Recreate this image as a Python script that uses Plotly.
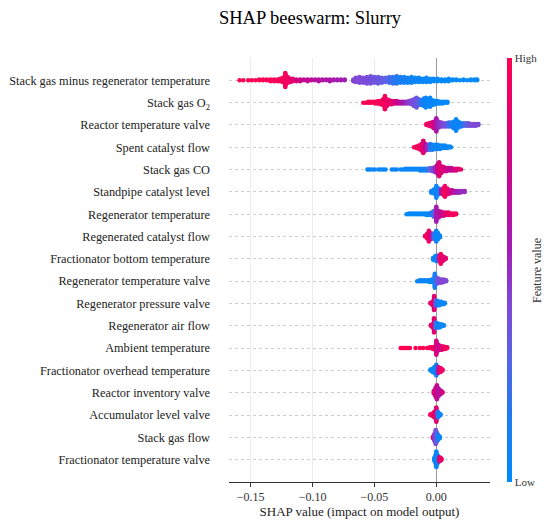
import plotly.graph_objects as go

# feature names, top to bottom
features = [
    "Stack gas minus regenerator temperature",
    "Stack gas O<sub>2</sub>",
    "Reactor temperature valve",
    "Spent catalyst flow",
    "Stack gas CO",
    "Standpipe catalyst level",
    "Regenerator temperature",
    "Regenerated catalyst flow",
    "Fractionator bottom temperature",
    "Regenerator temperature valve",
    "Regenerator pressure valve",
    "Regenerator air flow",
    "Ambient temperature",
    "Fractionator overhead temperature",
    "Reactor inventory valve",
    "Accumulator level valve",
    "Stack gas flow",
    "Fractionator temperature valve",
]

# each entry: (shap value, number of stacked points, feature value 0=low 1=high)
stack_minus_regen = [
    (-0.159, 1, 1.0), (-0.156, 1, 1.0), (-0.152, 1, 1.0), (-0.149, 1, 1.0), (-0.146, 1, 1.0),
    (-0.143, 2, 1.0), (-0.140, 2, 1.0), (-0.137, 2, 0.98), (-0.134, 3, 0.98), (-0.131, 3, 0.97),
    (-0.128, 3, 0.97), (-0.126, 4, 0.96), (-0.124, 6, 0.96), (-0.122, 18, 0.95), (-0.120, 8, 0.92),
    (-0.118, 5, 0.9), (-0.116, 4, 0.85), (-0.113, 3, 0.8), (-0.110, 3, 0.75), (-0.107, 2, 0.7),
    (-0.104, 3, 0.7), (-0.101, 2, 0.68), (-0.098, 2, 0.65), (-0.095, 3, 0.62), (-0.092, 2, 0.62),
    (-0.089, 2, 0.6), (-0.086, 3, 0.6), (-0.083, 2, 0.58), (-0.080, 2, 0.56), (-0.077, 2, 0.55),
    (-0.074, 2, 0.55),
    (-0.067, 3, 0.45), (-0.065, 6, 0.42), (-0.062, 8, 0.42), (-0.059, 7, 0.4), (-0.056, 9, 0.4),
    (-0.053, 10, 0.38), (-0.050, 8, 0.36), (-0.047, 9, 0.35), (-0.044, 7, 0.33), (-0.041, 6, 0.3),
    (-0.038, 8, 0.25), (-0.035, 9, 0.2), (-0.032, 10, 0.15), (-0.029, 8, 0.12), (-0.026, 8, 0.1),
    (-0.023, 7, 0.08), (-0.020, 8, 0.06), (-0.017, 6, 0.05), (-0.014, 6, 0.04), (-0.011, 5, 0.04),
    (-0.008, 6, 0.03), (-0.005, 5, 0.03), (-0.002, 4, 0.02), (0.001, 4, 0.02), (0.004, 3, 0.02),
    (0.007, 3, 0.02), (0.010, 4, 0.02), (0.013, 2, 0.02), (0.016, 2, 0.02), (0.019, 1, 0.02),
    (0.022, 2, 0.02), (0.025, 1, 0.02), (0.028, 2, 0.02), (0.031, 2, 0.02), (0.033, 2, 0.02),
]

stack_gas_o2 = [
    (-0.059, 1, 1.0), (-0.057, 1, 1.0), (-0.055, 2, 1.0), (-0.053, 2, 1.0), (-0.051, 2, 1.0),
    (-0.049, 3, 0.98), (-0.047, 4, 0.97), (-0.045, 5, 0.96), (-0.043, 8, 0.95), (-0.0415, 17, 0.95),
    (-0.040, 9, 0.9), (-0.038, 6, 0.9), (-0.036, 5, 0.85), (-0.034, 4, 0.8), (-0.032, 4, 0.75),
    (-0.030, 3, 0.7), (-0.028, 3, 0.6), (-0.026, 3, 0.55), (-0.024, 3, 0.5), (-0.022, 4, 0.45),
    (-0.020, 6, 0.4), (-0.018, 9, 0.38), (-0.016, 13, 0.35), (-0.014, 8, 0.3), (-0.012, 7, 0.15),
    (-0.010, 10, 0.1), (-0.0085, 13, 0.05), (-0.007, 9, 0.05), (-0.005, 12, 0.04), (-0.003, 7, 0.03),
    (-0.001, 5, 0.03), (0.001, 4, 0.02), (0.003, 3, 0.02), (0.005, 3, 0.02), (0.007, 2, 0.02),
    (0.009, 2, 0.02),
]

reactor_temp_valve = [
    (-0.008, 2, 0.95), (-0.006, 4, 0.9), (-0.004, 6, 0.85), (-0.002, 9, 0.75), (0.000, 17, 0.6),
    (0.002, 8, 0.5), (0.004, 6, 0.45), (0.006, 5, 0.4), (0.008, 5, 0.35), (0.010, 6, 0.25),
    (0.012, 6, 0.15), (0.014, 9, 0.1), (0.016, 15, 0.05), (0.018, 8, 0.05), (0.020, 5, 0.1),
    (0.022, 4, 0.2), (0.024, 4, 0.3), (0.026, 4, 0.35), (0.028, 3, 0.4), (0.030, 3, 0.42),
    (0.032, 3, 0.42), (0.034, 2, 0.42),
]

spent_catalyst_flow = [
    (-0.018, 1, 1.0), (-0.016, 3, 0.95), (-0.014, 5, 0.95), (-0.012, 9, 0.9), (-0.0105, 16, 0.85),
    (-0.009, 9, 0.7), (-0.007, 7, 0.5), (-0.005, 8, 0.2), (-0.003, 7, 0.1), (-0.001, 6, 0.05),
    (0.001, 6, 0.05), (0.003, 5, 0.05), (0.005, 4, 0.04), (0.007, 4, 0.04), (0.009, 3, 0.04),
    (0.011, 2, 0.04), (0.012, 1, 0.04),
]

stack_gas_co = [
    (-0.0556, 1, 0.05), (-0.054, 1, 0.05), (-0.052, 1, 0.05), (-0.050, 1, 0.05),
    (-0.047, 1, 0.05), (-0.045, 1, 0.05), (-0.043, 1, 0.05), (-0.041, 1, 0.05),
    (-0.036, 1, 0.05), (-0.034, 1, 0.05), (-0.032, 1, 0.05),
    (-0.029, 1, 0.05), (-0.027, 1, 0.05), (-0.025, 2, 0.05), (-0.023, 2, 0.05), (-0.021, 2, 0.05),
    (-0.019, 2, 0.05), (-0.017, 2, 0.05), (-0.015, 2, 0.05), (-0.013, 3, 0.05), (-0.011, 3, 0.05),
    (-0.009, 3, 0.1), (-0.007, 3, 0.2), (-0.005, 4, 0.3), (-0.003, 5, 0.4), (-0.001, 7, 0.5),
    (0.001, 12, 0.7), (0.0023, 18, 0.8), (0.004, 9, 0.85), (0.006, 6, 0.8), (0.008, 5, 0.75),
    (0.010, 4, 0.7), (0.012, 4, 0.7), (0.014, 3, 0.75), (0.016, 3, 0.8), (0.018, 2, 0.85),
    (0.020, 1, 0.9),
]

standpipe_level = [
    (-0.004, 3, 0.05), (-0.002, 6, 0.05), (0.000, 15, 0.05), (0.002, 8, 0.1), (0.004, 6, 0.6),
    (0.006, 10, 0.9), (0.007, 14, 0.95), (0.009, 8, 0.9), (0.011, 5, 0.8), (0.013, 4, 0.7),
    (0.015, 3, 0.6), (0.017, 3, 0.55), (0.019, 3, 0.5), (0.021, 2, 0.5), (0.023, 2, 0.5),
]

regen_temp = [
    (-0.024, 1, 0.02), (-0.022, 2, 0.02), (-0.020, 2, 0.02), (-0.018, 2, 0.02), (-0.016, 2, 0.02),
    (-0.014, 2, 0.02), (-0.012, 2, 0.02), (-0.010, 2, 0.02), (-0.008, 3, 0.03), (-0.006, 3, 0.03),
    (-0.004, 4, 0.1), (-0.002, 8, 0.3), (0.000, 19, 0.55), (0.002, 9, 0.6), (0.004, 6, 0.7),
    (0.006, 5, 0.8), (0.008, 4, 0.85), (0.010, 4, 0.9), (0.012, 3, 0.95), (0.014, 3, 0.95),
    (0.016, 2, 0.95),
]

regen_catalyst_flow = [
    (-0.009, 2, 0.95), (-0.0075, 6, 0.95), (-0.006, 14, 0.9), (-0.0045, 8, 0.8), (-0.003, 6, 0.5),
    (-0.0015, 8, 0.2), (0.000, 14, 0.05), (0.0015, 8, 0.05), (0.003, 3, 0.05),
]

frac_bottom_temp = [
    (-0.0026, 3, 0.05), (-0.001, 6, 0.05), (0.0005, 8, 0.1), (0.002, 6, 0.5), (0.0036, 13, 0.95),
    (0.005, 7, 0.9), (0.0065, 4, 0.85), (0.0077, 2, 0.85),
]

regen_temp_valve = [
    (-0.0155, 1, 0.05), (-0.0135, 2, 0.05), (-0.0115, 2, 0.05), (-0.0095, 2, 0.05), (-0.0075, 2, 0.05),
    (-0.0055, 3, 0.05), (-0.0035, 4, 0.05), (-0.0012, 18, 0.1), (0.0005, 8, 0.3), (0.002, 6, 0.4),
    (0.004, 5, 0.42), (0.006, 4, 0.42), (0.008, 2, 0.42),
]

regen_pressure_valve = [
    (-0.0047, 2, 0.9), (-0.003, 5, 0.9), (-0.0018, 18, 0.85), (-0.0005, 8, 0.4), (0.001, 6, 0.1),
    (0.0025, 5, 0.05), (0.004, 4, 0.05), (0.0055, 3, 0.05), (0.0069, 2, 0.05),
]

regen_air_flow = [
    (-0.0044, 2, 0.9), (-0.003, 5, 0.9), (-0.0018, 18, 0.85), (-0.0005, 8, 0.3), (0.001, 6, 0.05),
    (0.0025, 5, 0.05), (0.004, 4, 0.05), (0.006, 2, 0.05),
]

ambient_temp = [
    (-0.0287, 1, 1.0), (-0.0275, 1, 1.0), (-0.0263, 1, 1.0), (-0.0250, 1, 1.0), (-0.0237, 1, 1.0),
    (-0.0225, 1, 1.0), (-0.0213, 1, 1.0), (-0.0168, 1, 1.0), (-0.0133, 1, 1.0), (-0.0106, 1, 1.0),
    (-0.0074, 1, 1.0), (-0.0062, 1, 1.0), (-0.005, 2, 1.0), (-0.0038, 2, 0.95), (-0.0026, 3, 0.95),
    (-0.001, 5, 0.9), (0.000, 18, 0.8), (0.0015, 8, 0.7), (0.003, 6, 0.75), (0.0045, 5, 0.8),
    (0.006, 4, 0.9), (0.0075, 3, 0.95), (0.0088, 2, 0.95),
]

frac_overhead_temp = [
    (-0.0047, 2, 0.05), (-0.003, 5, 0.05), (-0.0015, 8, 0.05), (0.000, 14, 0.15), (0.0015, 8, 0.6),
    (0.0035, 6, 0.95), (0.005, 2, 0.9),
]

reactor_inventory_valve = [
    (-0.002, 4, 0.85), (-0.0005, 12, 0.75), (0.0005, 18, 0.7), (0.0018, 10, 0.65), (0.003, 6, 0.6),
    (0.004, 4, 0.7), (0.005, 2, 0.8),
]

accumulator_level_valve = [
    (-0.0047, 2, 0.95), (-0.003, 4, 0.95), (-0.0015, 8, 0.9), (0.000, 18, 0.85), (0.0012, 8, 0.2),
    (0.0024, 4, 0.05), (0.0034, 2, 0.05),
]

stack_gas_flow = [
    (-0.0026, 3, 0.9), (-0.0015, 9, 0.5), (-0.0005, 18, 0.4), (0.0005, 12, 0.3), (0.0015, 7, 0.1),
    (0.0028, 3, 0.05),
]

frac_temp_valve = [
    (-0.0017, 4, 0.05), (-0.0005, 12, 0.05), (0.000, 20, 0.05), (0.0012, 10, 0.1), (0.0025, 6, 0.8),
    (0.0035, 4, 0.9), (0.0042, 2, 0.9),
]

rows = [stack_minus_regen, stack_gas_o2, reactor_temp_valve, spent_catalyst_flow, stack_gas_co,
        standpipe_level, regen_temp, regen_catalyst_flow, frac_bottom_temp, regen_temp_valve,
        regen_pressure_valve, regen_air_flow, ambient_temp, frac_overhead_temp,
        reactor_inventory_valve, accumulator_level_valve, stack_gas_flow, frac_temp_valve]

# shap-like red/blue colormap
red_blue = [
    [0.0, "#008bfb"], [0.15, "#1e7bf0"], [0.3, "#5a62e6"], [0.42, "#8048d6"],
    [0.55, "#a21cb4"], [0.7, "#c40892"], [0.85, "#e20070"], [1.0, "#ff0052"],
]

FONT = "Liberation Serif, Times New Roman, serif"
step = 0.037  # vertical spacing of stacked points (row units)

n_rows = len(features)
fig = go.Figure()

for i, bins in enumerate(rows):
    ypos = n_rows - 1 - i
    xs, ys, cs = [], [], []
    for sv, n, fv in bins:
        # stack points around the row: 0, +1, -1, +2, -2 ...
        for k in range(n):
            off = ((k + 1) // 2) * (1 if k % 2 else -1)
            xs.append(sv)
            ys.append(ypos + off * step)
            cs.append(fv)
    fig.add_trace(go.Scatter(
        x=xs, y=ys, mode="markers",
        marker=dict(size=4.5, color=cs, coloraxis="coloraxis", line=dict(width=0)),
        showlegend=False, hoverinfo="x"))

# page body adds 8px around the figure, so the figure is 8px smaller than the window
W, H = 542, 515
fig.update_layout(
    width=W, height=H,
    margin=dict(l=221, r=60, t=50, b=41, autoexpand=False),
    paper_bgcolor="white", plot_bgcolor="white",
    font=dict(family=FONT, color="#333333"),
    title=dict(text="SHAP beeswarm: Slurry", x=302 / W, xref="container", xanchor="center",
               y=1 - 10 / H, yref="container", yanchor="middle",
               font=dict(size=18.5, color="black", family=FONT)),
    coloraxis=dict(
        colorscale=red_blue, cmin=0, cmax=1,
        colorbar=dict(
            x=1.065, xanchor="left", xpad=0, y=0.5, len=1, ypad=0,
            thickness=5, outlinewidth=0, ticks="",
            tickvals=[0, 1], ticktext=["Low", "High"],
            tickfont=dict(size=11, family=FONT, color="#333333"),
        ),
    ),
)

fig.update_xaxes(
    range=[-0.1675, 0.0434], automargin=False,
    tickvals=[-0.15, -0.10, -0.05, 0.00], tickformat=".2f",
    showgrid=True, gridcolor="#ececec", gridwidth=1,
    zeroline=True, zerolinecolor="#999999", zerolinewidth=1,
    showline=True, linecolor="#333333", linewidth=1,
    ticks="outside", ticklen=4, tickcolor="#333333",
    tickfont=dict(size=12, family=FONT, color="#333333"),
    title=dict(text="SHAP value (impact on model output)", standoff=3,
               font=dict(size=13, family=FONT, color="#222222")),
)

fig.update_yaxes(
    range=[-1, n_rows], automargin=False,
    tickvals=list(range(n_rows - 1, -1, -1)), ticktext=features,
    showgrid=True, gridcolor="#cccccc", gridwidth=1, griddash="dot",
    zeroline=False, showline=False, ticks="",
    ticklabelstandoff=18,
    tickfont=dict(size=12.3, family=FONT, color="#222222"),
)

# colorbar title
fig.add_annotation(text="Feature value", xref="paper", yref="paper", x=1.18, y=0.5,
                   xanchor="center", yanchor="middle",
                   textangle=-90, showarrow=False,
                   font=dict(size=12, family=FONT, color="#333333"))

fig.write_html("out.html")
